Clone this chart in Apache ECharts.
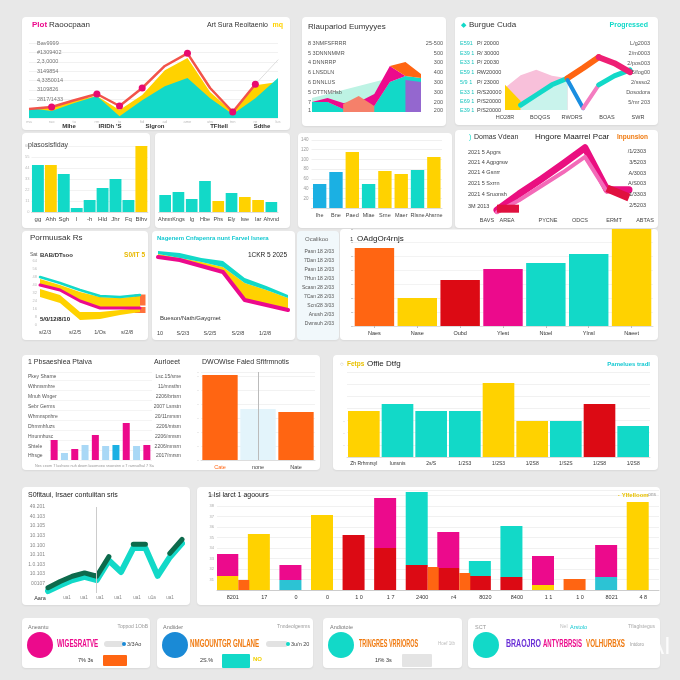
<!DOCTYPE html>
<html><head><meta charset="utf-8">
<script src="https://cdn.jsdelivr.net/npm/echarts@6/dist/echarts.min.js"></script>
<style>
html,body{margin:0;padding:0;width:680px;height:680px;overflow:hidden;background:#e8e8e8;font-family:"Liberation Sans",Arial,sans-serif;}
.card{position:absolute;background:#fff;border-radius:4px;box-shadow:0 1px 2px rgba(0,0,0,0.07);}
#wm{position:absolute;left:648px;top:632px;font-size:24px;color:rgba(255,255,255,0.85);font-family:"Liberation Sans",Arial,sans-serif;}
</style></head><body>
<script>
// ---------- DATA ----------
// Panel A (top-left area chart)
const aCats=['ma','ruo','tu','rm','to','fid','ad','ame','utw','tnn','re','lus'];
const aYellow=[9.6,11.7,19,23.5,8.5,24.5,51,64,27.7,6.4,35,38.4];
const aTeal=[10.7,7.5,16,23.5,2,19,34,42.7,21,4,21,42.7];
const aLine=[9.6,11.7,19,25.6,12.8,32,55.5,69,32,6.4,36,null];
const aTrail=[null,null,null,null,null,null,null,null,null,null,36,62];
const aMarks=[1,3,4,5,7,9,10];
const aYLabels=['','','2817/1433','3109826','4,3350014','3149854','2,3,0000','#1309402','Bav9999'];
const aXLabels=['Mlhe',"IRIDh 'S",'Slgron','TFItell','Sdthe'];
// Panel B
const bCats=['1','2','3','4','5','6','7','8'];
const bMint=[14,18,22,26,30,34,null,null];
const bTeal=[10,10,3,0,6,30,36,34];
const bMag=[0,4,6,10,12,16,0,0];
const bOrange=[0,0,0,0,0,0,14,4];
const bSalmon=[null,null,8,16,6,null,null,null];
const bPurple=[null,null,null,null,null,null,32,30];
const bLeft=['8 3NMFSFRRR','5 3DNNNMMR','4 DNNRRP','6 LNSDLN','6 DNNLUS','5 OTTNMHsb','7','1'];
const bRight=['25-500','500','300','400','300','300','200','200'];
// Panel C
const cCats=['1','2','3','4','5','6','7','8','9'];
const cPinkArea=[37,58,67,57,53,null,null,null,null];
const cYellow=[42,15,null,null,null,null,null,null,null];
const cTealRise=[null,8,25,42,53,null,null,null,null];
const cOrange=[null,null,null,null,53,70,88,null,null];
const cMagenta=[null,null,null,null,null,null,88,78,63];
const cBlue=[null,null,null,null,50,3,null,null,null];
const cPink=[null,null,null,null,null,3,42,null,null];
const cTealEnd=[null,null,null,null,null,null,42,57,67];
const cLeftA=['E591','E39 1','E33 1','E59 1','5/9 1','E33 1','E69 1','E39 1'];
const cLeftB=['P/ 20000','R/ 30000','P/ 20030','RW20000','P/ 23000','R/S20000','P/S20000','P/S20000'];
const cRight=['L/g2003','2/m0003','2/pos003','5/fog00','2/ssso2','Dosodora','5/mr 203'];
const cX=['HO28R','BOQGS','RWORS','BOAS','SWR'];
// Panel D
const dCats=['gg','Ahh','Sgh','l','-h','Hld','Jhr','Fq','Blhv'];
const dVals=[47,47,38,4,12,24,33,12,66];
const dColors=['t','y','t','t','t','t','t','t','y'];
// Panel E
const eCats=['Ahmn','Kngs','Ig','Hbe','Phs','Ely','Iwe','Iar','Ahvnd'];
const eVals=[17,20,13,31,11,19,15,12,10];
const eColors=['t','t','t','t','y','t','y','y','t'];
// Panel F
const fCats=['Ihe','Bne','Paed','Mlae','Srne','Maer','Rlsne','Ahsrne'];
const fVals=[24,36,56,24,37,34,38,51];
const fColors=['b','b','y','t','y','y','t','y'];
const fYLabels=['','20','40','60','80','100','120','140'];
// Panel G
const gCats=['1','2','3','4','5','6','7'];
const gMag=[7,30,51,73,96,36,36];
const gPink=[4,21,41,61,83,33,null];
const gRedStart=[9,9,null,null,null,null,null];
const gRedEnd=[null,null,null,null,null,38,25];
const gLeft=['2021 5 Apgrs','2021 4 Agpgrsw','2021 4 Gsnrr','2021 5 Sxrrn','2021 4 Sruonsh','3M 2013'];
const gRight=['/1/2303','3/5203','A/3003','A/S003','1/3303','2/5203'];
const gX=['BAVS','AREA','PYCNE','ODCS','ERMT','ABTAS'];
// Panel H
const hCats=['1','2','3','4','5','6'];
const hTeal=[48,42,35,29,28,30];
const hMag=[40,35,24,17,17,17];
const hBand1=[6,5,9,11,10,12];
const hBase2=[28,22,5,6,10,13];
const hBand2=[8,8,8,7,5,4];
const hSquares=[25,15];
const hX=['s/2/3','s/2/5','1/Os','s/2/8'];
// Panel I
const iCats=['1','2','3','4','5','6','7'];
const iMag=[68,65,59,53,25,20,15];
const iYellowTop=[71,67,63,58,42,35,27];
const iTealTop=[74,72,67,64,47,39,30];
const iX=['10','S/2/3','S/2/5','S/2/8','1/2/8'];
// Panel J
const jDates=['Pasn 18 2/03','7Dan 18 2/03','Pasn 18 2/03','7Hun 18 2/03','Scasn 28 2/03','7Can 28 2/03','Scn/28 3/03','Anush 2/03','Dwnsuh 2/03'];
// Panel K
const kCats=['Naes','Nase','Oubd','Ylest','Ntoel','Ylnsl','Naeet'];
const kVals=[78,28,46,57,63,72,97];
const kColors=['o','y','r','m','t','t','y'];
// Panel L
const lCats=['a','b','c','d','e','f','g','h','i','j'];
const lVals=[20,7,11,15,25,14,15,37,14,15];
const lColors=['m','lb','m','lb','m','lb','b','m','lb','m'];
const lLeft=['Pkey Shame','Wthmsmhre','Mnuh Wnger','Sebr Germs','Whmnspnhre','Dhmmhfuzs','Hnunnhusc','Shtele','Hhsge'];
const lRight=['Lsc.15/sme','11/mnsthn','2206/brtsrn','2007 Lsnstn','20/11mrsnn','2206/mtsm','2206/nmsm','2206/mnsrn','2017/mrsm'];
const l2Cats=['Cate','none','Nate'];
const l2Vals=[85,51,48];
const l2Colors=['o','pale','o'];
// Panel M
const mCats=['Zh Rrhmrsyl','Iunsnis','2s/S','1/2S3','1/2S3','1/2S8','1/S2S','1/2S8','1/2S8'];
const mVals=[46,53,46,46,74,36,36,53,31];
const mColors=['y','t','t','t','y','y','t','r','t'];
// Panel N
const nCats=['1','2','3','4','5','6','7','8','9','10','11','12'];
const nTeal=[0.2,0.8,1.35,1.7,1.35,3.4,2.2,4.7,4.7,1.8,3.75,5.2];
const nDark=[0.55,1.2,1.75,2.1,1.75,3.8,null,5.1,5.1,null,4.15,5.6];
const nYLabels=['','00107','10.103','1.0.103','10.101','10.100','10.103','10.105','40.103','49.201'];
const nX=['Aara','ua1','ua1','ua1','ua1','ua1','u1a','ua1'];
// Panel O
const oCats=['8201','17','0','0','1 0','1 7','2400','r4','8020','8400','1 1','1 0','8021','4 8'];
const oLower=[14,56,10,75,55,42,25,22,14,13,5,11,13,88];
const oLowerColors=['y','y','cb','y','r','r','r','r','r','r','y','o','cb','y'];
const oUpper=[22,0,15,0,0,50,73,36,15,51,29,0,32,0];
const oUpperColors=['m','m','m','m','m','m','t','m','t','t','m','m','m','m'];
const oSide=[10,null,null,null,null,null,23,17,null,null,null,null,null,null];
const oYLabels=['','31','32','33','34','35','36','37','38','39'];
// KPI row
const kpiTitles=['Aneantu','Andiider','Andiotoie','SCT'];
const kpiMain=['WIGESRATVE','NMGOUNTGR GNLANE','TRINGRES VRRIOROS'];
const kpiMain4=['BRAOJRO','ANTYRBRSIS','VOLHURBXS'];
const kpiPct=['7% 3s','2S.%','1f% 3s'];
const kpiBars=[24,28,30];

// ---------- STYLE ----------
const FF='"Liberation Sans", Arial, sans-serif';
const PAL={t:'#12d9c8',y:'#ffd200',m:'#ec0a8c',o:'#ff6512',r:'#dc0a14',b:'#1bb0e3',lb:'#a9d8f6',pale:'#e3f4fb',cb:'#2cc3d4',mint:'#bdf3e4',salmon:'#f5806a',pink:'#f47cc0',purple:'#9467cf',dgreen:'#0d6a4c'};

function panel(x0,y0,w,h,build,bg){
  const d=document.createElement('div');
  d.className='card';
  d.style.left=x0+'px';d.style.top=y0+'px';d.style.width=w+'px';d.style.height=h+'px';
  if(bg) d.style.background=bg;
  document.body.appendChild(d);
  const grid=(l,t,r,b)=>({left:l-x0,top:t-y0,width:r-l,height:b-t});
  const T=(x,y,text,o={})=>{
    const el={type:'text',x:x-x0,y:y-y0,silent:true,z:100,style:{text:text,fill:o.c||'#333',fontSize:o.s||7,fontWeight:o.w||'normal',fontFamily:o.f||FF,align:o.a||'left',verticalAlign:'middle'}};
    if(o.sx){el.scaleX=o.sx;el.originX=0;el.originY=0;}
    return el;
  };
  const Circ=(x,y,r,color)=>({type:'circle',shape:{cx:x-x0,cy:y-y0,r:r},style:{fill:color},silent:true,z:90});
  const Rect=(x,y,w2,h2,color,rr)=>({type:'rect',shape:{x:x-x0,y:y-y0,width:w2,height:h2,r:rr||0},style:{fill:color},silent:true,z:90});
  const opt=build(grid,T,Circ,Rect);
  const c=echarts.init(d,null,{renderer:'canvas'});
  opt.animation=false;
  c.setOption(opt);
}
const area=(data,color,extra)=>Object.assign({type:'line',data:data,symbol:'none',lineStyle:{width:0},areaStyle:{color:color,opacity:1}},extra||{});
const ln=(data,color,width,extra)=>Object.assign({type:'line',data:data,symbol:'none',lineStyle:{width:width,color:color,cap:'round',join:'round'}},extra||{});
const hiddenCat=(data)=>({type:'category',data:data,boundaryGap:false,show:false});
const hiddenVal=(max)=>({type:'value',min:0,max:max,show:false});
const byIdx=(arr)=>(p)=>PAL[arr[p.dataIndex]];
const tinyY=(max,interval)=>({type:'value',min:0,max:max,interval:interval,axisLine:{show:false},axisTick:{show:false},axisLabel:{fontSize:4,color:'#bbb',margin:2},splitLine:{lineStyle:{color:'#f2f2f2'}}});
const catAx=(data,size,color)=>({type:'category',data:data,axisLine:{lineStyle:{color:'#ddd'}},axisTick:{show:false},axisLabel:{fontSize:size||6,color:color||'#444',margin:4,interval:0}});

// ---------- PANEL A ----------
panel(22,17,268,113,(grid,T)=>({
  grid:grid(29,43,278,118),
  xAxis:{type:'category',data:aCats,boundaryGap:false,axisLine:{show:false},axisTick:{show:false},axisLabel:{fontSize:4,color:'#bbb',margin:2,interval:0}},
  yAxis:{type:'value',min:0,max:80,interval:10,axisLine:{show:false},axisTick:{show:false},axisLabel:{inside:true,fontSize:5.5,color:'#777',formatter:(v,i)=>aYLabels[i]||''},splitLine:{lineStyle:{color:'#f1f1f1'}}},
  series:[
    area(aYellow,PAL.y),
    area(aTeal,PAL.t),
    {type:'line',data:aLine,symbol:'circle',symbolSize:(v,p)=>aMarks.indexOf(p.dataIndex)>=0?7:0,showAllSymbol:true,lineStyle:{width:2.5,color:'#f2534a'},itemStyle:{color:'#e8096f'}},
    ln(aTrail,'#dedede',1)
  ],
  graphic:[
    T(32,25,'Plot',{c:PAL.m,s:8,w:'bold'}),T(49,25,'Raoocpaan',{s:8}),
    T(268,25,'Art Sura Reoitaenio',{s:7,a:'right'}),T(283,25,'mq',{c:PAL.y,s:7,w:'bold',a:'right'}),
    T(69,126,aXLabels[0],{s:6,w:'bold',a:'center'}),T(110,126,aXLabels[1],{s:6,w:'bold',a:'center'}),
    T(155,126,aXLabels[2],{s:6,w:'bold',a:'center'}),T(219,126,aXLabels[3],{s:6,w:'bold',a:'center'}),
    T(262,126,aXLabels[4],{s:6,w:'bold',a:'center'})
  ]
}));

// ---------- PANEL B ----------
panel(302,17,144,109,(grid,T)=>{
  const g=[T(308,27,'Rlaupariod Eumyyyes',{s:8})];
  const ly=[43,53,62,72,82,92,102,110];
  bLeft.forEach((s,i)=>g.push(T(308,ly[i],s,{s:5.5,c:'#555'})));
  bRight.forEach((s,i)=>g.push(T(443,ly[i],s,{s:5.5,c:'#555',a:'right'})));
  return {
    grid:grid(312,58,421,112),
    xAxis:hiddenCat(bCats),yAxis:hiddenVal(54),
    series:[
      area(bMint,PAL.mint),
      area(bTeal,PAL.t,{stack:'s'}),
      area(bMag,PAL.m,{stack:'s'}),
      area(bOrange,PAL.o,{stack:'s'}),
      area(bSalmon,PAL.salmon),
      area(bPurple,PAL.purple)
    ],
    graphic:g
  };
});

// ---------- PANEL C ----------
panel(455,17,203,108,(grid,T)=>{
  const g=[T(461,25,'\u25C6',{c:PAL.t,s:7}),T(469,25,'Burgue Cuda',{s:8}),T(648,25,'Progressed',{c:PAL.t,s:7,w:'bold',a:'right'})];
  const ly=[43,53,62,72,82,92,101,110];
  cLeftA.forEach((s,i)=>{g.push(T(460,ly[i],s,{s:5.5,c:'#1cc6c0'}));g.push(T(477,ly[i],cLeftB[i],{s:5.5,c:'#444'}));});
  const ry=[43,53,63,72,82,92,102];
  cRight.forEach((s,i)=>g.push(T(650,ry[i],s,{s:5.5,c:'#555',a:'right'})));
  const rx=[505,540,572,607,638];
  cX.forEach((s,i)=>g.push(T(rx[i],117,s,{s:5.5,c:'#444',a:'center'})));
  return {
    grid:grid(505,50,630,110),
    xAxis:hiddenCat(cCats),yAxis:hiddenVal(100),
    series:[
      area(cPinkArea,'#f8c0da'),
      area(cYellow,PAL.y),
      ln(cTealRise,PAL.t,5,{areaStyle:{color:'#c9f3ec',opacity:1}}),
      ln(cOrange,PAL.o,6),
      ln(cBlue,'#1a8ee0',4),
      ln(cPink,PAL.pink,4),
      ln(cTealEnd,PAL.t,5),
      ln(cMagenta,'#ee1f74',6)
    ],
    graphic:g
  };
});

// ---------- PANEL D ----------
panel(22,133,128,95,(grid,T)=>({
  grid:grid(28,146,148,212),
  xAxis:catAx(dCats,6),
  yAxis:tinyY(66,11),
  series:[{type:'bar',data:dVals,barCategoryGap:'8%',itemStyle:{color:byIdx(dColors)}}],
  graphic:[T(28,145,'plasosisfiday',{s:7,c:'#444'})]
}));

// ---------- PANEL E ----------
panel(155,133,135,95,(grid,T)=>({
  grid:grid(158,140,278,212),
  xAxis:catAx(eCats,5.5),
  yAxis:Object.assign(tinyY(72,12),{axisLabel:{show:false},splitLine:{show:false}}),
  series:[{type:'bar',data:eVals,barCategoryGap:'12%',itemStyle:{color:byIdx(eColors)}}]
}));

// ---------- PANEL F ----------
panel(298,133,154,95,(grid,T)=>({
  grid:grid(311,140,442,208),
  xAxis:catAx(fCats,5.5),
  yAxis:{type:'value',min:0,max:68,interval:68/7,axisLine:{show:false},axisTick:{show:false},axisLabel:{fontSize:4.5,color:'#999',margin:3,formatter:(v,i)=>fYLabels[i]||''},splitLine:{lineStyle:{color:'#f0f0f0'}}},
  series:[{type:'bar',data:fVals,barCategoryGap:'18%',itemStyle:{color:byIdx(fColors)}}]
}));

// ---------- PANEL G ----------
panel(455,130,203,98,(grid,T)=>{
  const g=[T(469,137,')',{c:PAL.t,s:7}),T(474,137,'Domas Vdean',{s:7}),T(535,137,'Hngore Maarrel Pcar',{s:8,c:'#222'}),T(617,137,'Inpunsion',{s:6.5,c:'#f07a10',w:'bold'})];
  const ly=[152,162,172,183,194,206];
  gLeft.forEach((s,i)=>g.push(T(468,ly[i],s,{s:5.5,c:'#444'})));
  const ry=[151,162,173,183,194,205];
  gRight.forEach((s,i)=>g.push(T(646,ry[i],s,{s:5.5,c:'#444',a:'right'})));
  const rx=[487,507,548,580,614,645];
  gX.forEach((s,i)=>g.push(T(rx[i],220,s,{s:5.5,c:'#444',a:'center'})));
  return {
    grid:grid(497,145,629,215),
    xAxis:hiddenCat(gCats),yAxis:hiddenVal(100),
    series:[
      ln(gMag,'#ea0f80',7),
      ln(gPink,'#f36ab8',4),
      ln(gRedStart,'#e0103f',8,{lineStyle:{width:8,color:'#e0103f',cap:'butt'}}),
      ln(gRedEnd,'#e0103f',8,{lineStyle:{width:8,color:'#e0103f',cap:'butt'}})
    ],
    graphic:g
  };
});

// ---------- PANEL H ----------
panel(22,231,126,109,(grid,T)=>{
  const g=[T(30,238,'Pormuusak Rs',{s:8}),T(30,255,'Sat',{s:5,c:'#666'}),T(40,255,'BAB/DTsoo',{s:6,w:'bold'}),T(145,255,'S0/IT 5',{s:6.5,c:'#e8b800',w:'bold',a:'right'}),T(40,319,'5/0/12/8/10',{s:6,c:'#222',w:'bold'})];
  const rx=[45,75,100,127];
  hX.forEach((s,i)=>g.push(T(rx[i],332,s,{s:5.5,c:'#444',a:'center'})));
  return {
    grid:grid(40,255,140,325),
    xAxis:hiddenCat(hCats),
    yAxis:{type:'value',min:0,max:70,interval:8,axisLine:{show:false},axisTick:{show:false},axisLabel:{fontSize:4,color:'#bbb',margin:3},splitLine:{show:false}},
    series:[
      area(hBase2,'transparent',{stack:'b2',areaStyle:{opacity:0}}),
      area(hBand2,PAL.y,{stack:'b2'}),
      area(hMag,'transparent',{stack:'b1',areaStyle:{opacity:0}}),
      area(hBand1,PAL.y,{stack:'b1'}),
      ln(hMag,PAL.m,3),
      ln(hTeal,PAL.t,2.5),
      {type:'scatter',data:[[5,hSquares[0]],[5,hSquares[1]]],symbol:'rect',symbolSize:(v,p)=>p.dataIndex===0?[11,11]:[11,6],itemStyle:{color:'#ff4d0a'}}
    ],
    graphic:g
  };
});

// ---------- PANEL I ----------
panel(152,231,143,109,(grid,T)=>{
  const g=[T(157,238,'Nagenem Cnfapenra nunt Farvel Isnera',{s:6,c:'#16c9d2',w:'bold'}),T(287,255,'1CKR 5 2025',{s:6.5,c:'#222',a:'right'}),T(160,318,'Bueson/Nath/Gaygmet',{s:6,c:'#333'})];
  const rx=[160,183,210,238,265];
  iX.forEach((s,i)=>g.push(T(rx[i],333,s,{s:5.5,c:'#444',a:'center'})));
  const yb=iYellowTop.map((v,i)=>v-iMag[i]);
  const tb=iTealTop.map((v,i)=>v-iYellowTop[i]);
  return {
    grid:grid(158,245,288,325),
    xAxis:hiddenCat(iCats),yAxis:hiddenVal(80),
    series:[
      area(iMag,'transparent',{stack:'s',areaStyle:{opacity:0}}),
      area(yb,PAL.y,{stack:'s'}),
      area(tb,PAL.t,{stack:'s'}),
      ln(iMag,PAL.m,4)
    ],
    graphic:g
  };
});

// ---------- PANEL J ----------
panel(297,231,42,109,(grid,T)=>{
  const g=[T(305,239,'Ocalikoo',{s:6,c:'#666'})];
  jDates.forEach((s,i)=>g.push(T(334,252+i*9,s,{s:5,c:'#555',a:'right'})));
  return {graphic:g};
},'#f1f8fb');

// ---------- PANEL K ----------
panel(340,229,318,111,(grid,T)=>({
  grid:grid(353,229,653,326),
  xAxis:Object.assign(catAx(kCats,5.5,'#333'),{axisTick:{show:true,alignWithLabel:true,length:2,lineStyle:{color:'#bbb'}}}),
  yAxis:{type:'value',min:0,max:97,interval:14,axisLine:{show:false},axisTick:{show:true,length:2,lineStyle:{color:'#ccc'}},axisLabel:{show:false},splitLine:{lineStyle:{color:'#f3f3f3'}}},
  series:[{type:'bar',data:kVals,barCategoryGap:'8%',itemStyle:{color:byIdx(kColors)}}],
  graphic:[T(350,239,'1',{s:6,c:'#444'}),T(357,239,'OAdgOr4rnjs',{s:8,c:'#222'})]
}));

// ---------- PANEL L ----------
panel(22,355,298,115,(grid,T)=>{
  const g=[T(28,362,'1 Pbsaeshiea Ptaiva',{s:7,c:'#333'}),T(180,362,'Aurloeet',{s:7,c:'#333',a:'right'}),T(202,362,'DWOWise Faled Sfifrmnotis',{s:7,c:'#333'}),
           T(35,466,'Nes ceom 7 lashseo nuh deom lasomoeo snoesinn o 7 ramsolhal 7 Sa',{s:3.8,c:'#999'})];
  const ly=[377,387,397,407,417,427,437,447,456];
  lLeft.forEach((s,i)=>g.push(T(28,ly[i],s,{s:5,c:'#555'})));
  lRight.forEach((s,i)=>g.push(T(181,ly[i],s,{s:5,c:'#555',a:'right'})));
  return {
    grid:[grid(49,372,152,460),grid(201,372,315,460)],
    xAxis:[
      {gridIndex:0,type:'category',data:lCats,axisLine:{show:false},axisTick:{show:false},axisLabel:{show:false}},
      {gridIndex:1,type:'category',data:l2Cats,axisLine:{lineStyle:{color:'#ddd'}},axisTick:{show:false},axisLabel:{fontSize:5.5,margin:4,interval:0,color:(v,i)=>i===0?PAL.o:'#444'}}
    ],
    yAxis:[
      {gridIndex:0,type:'value',min:0,max:88,interval:10,show:true,axisLine:{show:false},axisTick:{show:false},axisLabel:{show:false},splitLine:{lineStyle:{color:'#f4f4f4'}}},
      {gridIndex:1,type:'value',min:0,max:88,interval:14,axisLine:{show:false},axisTick:{show:false},axisLabel:{fontSize:3.5,color:'#bbb',margin:2,formatter:()=>'\u2013'},splitLine:{lineStyle:{color:'#f2f2f2'}}}
    ],
    series:[
      {type:'bar',xAxisIndex:0,yAxisIndex:0,data:lVals,barCategoryGap:'32%',itemStyle:{color:byIdx(lColors)}},
      {type:'bar',xAxisIndex:1,yAxisIndex:1,data:l2Vals,barCategoryGap:'7%',itemStyle:{color:byIdx(l2Colors)},
       markLine:{symbol:'none',silent:true,label:{show:false},lineStyle:{color:'#bbb',type:'solid',width:1},data:[{xAxis:1}]}}
    ],
    graphic:g
  };
});

// ---------- PANEL M ----------
panel(333,355,325,115,(grid,T)=>({
  grid:grid(347,372,650,457),
  xAxis:catAx(mCats,5,'#333'),
  yAxis:{type:'value',min:0,max:85,interval:85/7,axisLine:{show:false},axisTick:{show:false},axisLabel:{fontSize:3.5,color:'#bbb',margin:2,formatter:(v,i)=>i>0&&i<4?'\u2013':''},splitLine:{lineStyle:{color:'#f1f1f1'}}},
  series:[{type:'bar',data:mVals,barCategoryGap:'6%',itemStyle:{color:byIdx(mColors)}}],
  graphic:[T(340,364,'\u25CB',{s:6,c:'#aaa'}),T(347,364,'Fetps',{s:6.5,c:'#e8c000',w:'bold'}),T(367,364,'Offie Dtfg',{s:8,c:'#222'}),T(650,364,'Pamelues tradl',{s:6,c:'#16c9d2',w:'bold',a:'right'})]
}));

// ---------- PANEL N ----------
panel(22,487,168,118,(grid,T)=>{
  const g=[T(28,495,'S0fitaui, Irsaer contuiitan sris',{s:7,c:'#222'})];
  const rx=[40,67,84,100,118,137,152,170];
  nX.forEach((s,i)=>g.push(T(rx[i],598,s,{s:i===0?5.5:4.5,c:i===0?'#333':'#888',a:'center'})));
  return {
    grid:grid(48,507,182,593),
    xAxis:{type:'category',data:nCats,boundaryGap:false,axisLine:{show:false},axisTick:{show:false},axisLabel:{show:false}},
    yAxis:{type:'value',min:0,max:9,interval:1,axisLine:{show:false},axisTick:{show:false},axisLabel:{fontSize:5,color:'#888',margin:3,formatter:(v,i)=>nYLabels[i]||''},splitLine:{show:false}},
    series:[
      ln(nTeal,PAL.t,6,{markLine:{symbol:'none',silent:true,label:{show:false},lineStyle:{color:'#ccc',type:'solid',width:1},data:[{xAxis:4}]}}),
      ln(nDark,PAL.dgreen,5)
    ],
    graphic:g
  };
});

// ---------- PANEL O ----------
panel(197,487,463,118,(grid,T)=>({
  grid:grid(217,490,659,590),
  xAxis:Object.assign(catAx(oCats,5.5,'#333'),{axisLine:{lineStyle:{color:'#ccc'}}}),
  yAxis:{type:'value',min:0,max:100,interval:10.5,axisLine:{show:false},axisTick:{show:false},axisLabel:{fontSize:4,color:'#aaa',margin:3,formatter:(v,i)=>oYLabels[i]||''},splitLine:{lineStyle:{color:'#f1f1f1'}}},
  series:[
    {type:'bar',stack:'o',data:oLower,barWidth:22,barGap:'0%',itemStyle:{color:byIdx(oLowerColors)}},
    {type:'bar',stack:'o',data:oUpper,barWidth:22,itemStyle:{color:byIdx(oUpperColors)}},
    {type:'bar',data:oSide,barWidth:11,itemStyle:{color:PAL.o}}
  ],
  graphic:[T(208,495,'1 lsl larct 1 agoours',{s:7,c:'#222'}),T(618,495,'\u00b7 Ylfelloom',{s:6,c:'#e8c000',w:'bold'}),T(656,495,'ons',{s:5,c:'#999',a:'right'})]
}));

// ---------- KPI ROW ----------
const kpiX=[22,157,323,468], kpiW=[128,156,139,192];
const circColors=[PAL.m,'#1a8ad6',PAL.t,PAL.t];
const mainColors=[PAL.m,'#f07a10','#f07a10'];
const barColors=[PAL.o,PAL.t,'#e4e4e4'];
const barPos=[[103,655,133,666],[222,654,252,668],[402,654,436,667]];
const barMax=[30,30,34];
kpiX.forEach((x0,k)=>{
  panel(x0,618,kpiW[k],50,(grid,T,Circ,Rect)=>{
    const g=[Circ(x0+18,645,13,circColors[k])];
    const H={s:10,w:900,sx:0.62};
    if(k===0){
      g.push(T(28,627,kpiTitles[0],{s:5.5,c:'#777'}),T(148,627,'Toppod 1ObB',{s:5,c:'#999',a:'right'}),
        T(57,644,kpiMain[0],Object.assign({c:mainColors[0]},H)),Rect(104,641,20,6,'#e2e2e2',3),Circ(124,644,2,'#1a8ad6'),T(127,644,'3/3Ao',{s:5.5,c:'#444'}),
        T(78,660,kpiPct[0],{s:5.5,c:'#333'}));
    } else if(k===1){
      g.push(T(163,627,kpiTitles[1],{s:5.5,c:'#777'}),T(310,627,'Tnndeolgenms',{s:5,c:'#999',a:'right'}),
        T(190,644,kpiMain[1],Object.assign({c:mainColors[1]},H)),Rect(266,641,22,6,'#e2e2e2',3),Circ(288,644,2,PAL.t),T(291,644,'3u/n 20',{s:5.5,c:'#444'}),
        T(200,660,kpiPct[1],{s:5.5,c:'#333'}),T(253,659,'NO',{s:6,c:'#f2d000',w:'bold'}));
    } else if(k===2){
      g.push(T(330,627,kpiTitles[2],{s:5.5,c:'#777'}),
        T(359,644,kpiMain[2],Object.assign({c:mainColors[2]},H,{sx:0.55})),T(455,644,'Hoef 1tb',{s:4.5,c:'#bbb',a:'right'}),
        T(375,660,kpiPct[2],{s:5.5,c:'#333'}));
    } else {
      g.push(T(475,627,kpiTitles[3],{s:5.5,c:'#999'}),T(560,627,'Nel',{s:5,c:'#bbb'}),T(570,627,'Arstolo',{s:5.5,c:'#16c9d2'}),T(655,627,'Tflaglstegus',{s:5,c:'#aaa',a:'right'}),
        T(506,644,kpiMain4[0],Object.assign({c:'#6a2fd6'},H,{sx:0.7})),T(543,644,kpiMain4[1],Object.assign({c:PAL.m},H,{sx:0.6})),T(586,644,kpiMain4[2],Object.assign({c:'#f07a10'},H,{sx:0.62})),
        T(630,645,'Intdoro',{s:4.5,c:'#999'}));
    }
    const o={graphic:g};
    if(k<3){
      const b=barPos[k];
      o.grid=grid(b[0],b[1],b[2],b[3]);
      o.xAxis={type:'value',min:0,max:barMax[k],show:false};
      o.yAxis={type:'category',data:['v'],show:false};
      o.series=[{type:'bar',data:[kpiBars[k]],barCategoryGap:'0%',itemStyle:{color:barColors[k],borderRadius:1}}];
    }
    return o;
  });
});
</script>
<div id="wm">AI</div>
</body></html>
